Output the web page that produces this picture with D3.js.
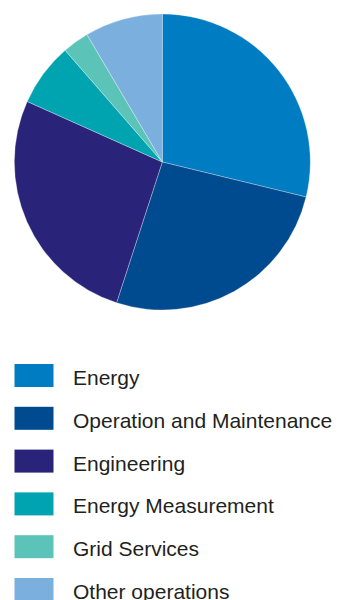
<!DOCTYPE html>
<html>
<head>
<meta charset="utf-8">
<script src="https://cdn.jsdelivr.net/npm/d3@7"></script>
<style>
  html, body { margin: 0; padding: 0; background: #fff; }
  svg { display: block; }
</style>
</head>
<body>
<svg id="chart" width="337" height="600"></svg>
<script>
// Revenue split by business line (share of total, %)
const categories = [
  "Energy",
  "Operation and Maintenance",
  "Engineering",
  "Energy Measurement",
  "Grid Services",
  "Other operations"
];
const shares = [28.8, 26.2, 26.7, 6.9, 2.9, 8.5];
const colors = ["#007cc2", "#004a8f", "#29247a", "#00a3b0", "#5cc3b8", "#7aafde"];

const svg = d3.select("#chart");
const cx = 162.3, cy = 162, radius = 148;

const color = d3.scaleOrdinal().domain(categories).range(colors);

const pie = d3.pie().sort(null).value(d => d.value);
const arc = d3.arc().innerRadius(0).outerRadius(radius);

const data = categories.map((c, i) => ({ name: c, value: shares[i] }));

svg.append("g")
  .attr("transform", `translate(${cx},${cy})`)
  .selectAll("path")
  .data(pie(data))
  .join("path")
  .attr("d", arc)
  .attr("fill", d => color(d.data.name))
  .attr("stroke", "#ffffff")
  .attr("stroke-opacity", 0.5)
  .attr("stroke-width", 0.6);

// Legend
const legendTop = 364, rowStep = 42.8;
const legend = svg.append("g")
  .selectAll("g")
  .data(categories)
  .join("g")
  .attr("transform", (d, i) => `translate(0,${legendTop + i * rowStep})`);

legend.append("rect")
  .attr("x", 14.5)
  .attr("y", 0)
  .attr("width", 39)
  .attr("height", 23)
  .attr("fill", d => color(d));

legend.append("text")
  .attr("x", 73)
  .attr("y", 21)
  .attr("font-family", "'Liberation Sans', Arial, sans-serif")
  .attr("font-size", 21)
  .attr("fill", "#231f20")
  .text(d => d);
</script>
</body>
</html>
